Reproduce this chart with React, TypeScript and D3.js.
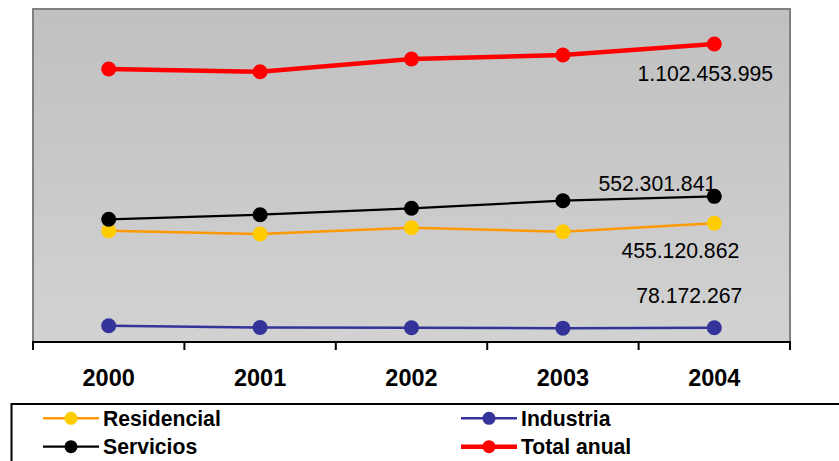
import React from "react";
import * as d3 from "d3";

const years = ["2000", "2001", "2002", "2003", "2004"];
const residencial = [428.3e6, 416.4e6, 439.2e6, 424.7e6, 455120862];
const industria = [85.0e6, 79.0e6, 77.8e6, 76.5e6, 78172267];
const servicios = [469.5e6, 486.1e6, 509.2e6, 536.6e6, 552301841];
const totalAnual = [1012.1e6, 1002.3e6, 1048.2e6, 1062.6e6, 1102453995];

const seriesNames = ["Residencial", "Industria", "Servicios", "Total anual"];

const W = 839;
const H = 461;
const plot = { left: 33, right: 790, top: 9, bottom: 342 };

const fmt = d3
  .formatLocale({ decimal: ",", thousands: ".", grouping: [3], currency: ["", ""] })
  .format(",d");

type S = {
  name: string;
  values: number[];
  line: string;
  marker: string;
  width: number;
  r: number;
  label: { dx: number; dy: number };
};

const series: S[] = [
  { name: seriesNames[0], values: residencial, line: "#FF9900", marker: "#FFCC00", width: 2.5, r: 7.5, label: { dx: -34, dy: 27 } },
  { name: seriesNames[1], values: industria, line: "#333399", marker: "#333399", width: 2.5, r: 7.5, label: { dx: -25, dy: -32 } },
  { name: seriesNames[2], values: servicios, line: "#000000", marker: "#000000", width: 2.2, r: 7.5, label: { dx: -57, dy: -13 } },
  { name: seriesNames[3], values: totalAnual, line: "#FF0000", marker: "#FF0000", width: 4.5, r: 7.5, label: { dx: -9, dy: 29 } },
];

const FONT = "Arial, 'Liberation Sans', sans-serif";

export default function App() {
  const x = d3.scaleBand<string>().domain(years).range([plot.left, plot.right]);
  const y = d3.scaleLinear().domain([0, 1.2e9]).range([349.35, 349.35 - 0.277 * 1200]);
  const cx = (yr: string) => (x(yr) as number) + x.bandwidth() / 2;
  const line = d3
    .line<number>()
    .x((_, i) => cx(years[i]))
    .y((v) => y(v));

  const ticks = [...years.map((yr) => x(yr) as number), plot.right];

  const legendItems = [
    { s: series[0], col: 0, row: 0 },
    { s: series[1], col: 1, row: 0 },
    { s: series[2], col: 0, row: 1 },
    { s: series[3], col: 1, row: 1 },
  ];

  return (
    <svg
      width={W}
      height={H}
      style={{ position: "absolute", left: 0, top: 0, display: "block" }}
      fontFamily={FONT}
    >
      <defs>
        <linearGradient id="bg" x1="0" y1="0" x2="0" y2="1">
          <stop offset="0%" stopColor="#C0C0C0" />
          <stop offset="100%" stopColor="#D2D2D2" />
        </linearGradient>
      </defs>
      <rect x={0} y={0} width={W} height={H} fill="#fff" />
      <rect
        x={plot.left}
        y={plot.top}
        width={plot.right - plot.left}
        height={plot.bottom - plot.top}
        fill="url(#bg)"
      />
      <path
        d={`M${plot.left},${plot.bottom}V${plot.top}H${plot.right}V${plot.bottom}`}
        fill="none"
        stroke="#808080"
        strokeWidth={2}
      />
      {/* x axis */}
      <line x1={plot.left - 1} x2={plot.right + 1} y1={plot.bottom} y2={plot.bottom} stroke="#000" strokeWidth={2} />
      {ticks.map((t, i) => (
        <line key={i} x1={t} x2={t} y1={plot.bottom} y2={plot.bottom + 8} stroke="#000" strokeWidth={2} />
      ))}
      {years.map((yr) => (
        <text
          key={yr}
          x={cx(yr)}
          y={378}
          dy="0.36em"
          textAnchor="middle"
          fontWeight="bold"
          fontSize={23.5}
          fill="#000"
        >
          {yr}
        </text>
      ))}
      {/* series */}
      {series.map((s) => (
        <g key={s.name}>
          <path d={line(s.values) || ""} fill="none" stroke={s.line} strokeWidth={s.width} />
          {s.values.map((v, i) => (
            <circle key={i} cx={cx(years[i])} cy={y(v)} r={s.r} fill={s.marker} />
          ))}
        </g>
      ))}
      {/* data labels on last point */}
      {series.map((s) => {
        const last = s.values.length - 1;
        return (
          <text
            key={s.name + "-lbl"}
            x={cx(years[last]) + s.label.dx}
            y={y(s.values[last]) + s.label.dy}
            dy="0.36em"
            textAnchor="middle"
            fontSize={21.2}
            fill="#000"
          >
            {fmt(s.values[last])}
          </text>
        );
      })}
      {/* legend */}
      <rect x={11.5} y={404} width={W + 10} height={H} fill="#fff" stroke="#000" strokeWidth={2} />
      {legendItems.map(({ s, col, row }) => {
        const lx = col === 0 ? 43 : 461;
        const ly = row === 0 ? 418.3 : 446.7;
        return (
          <g key={s.name + "-leg"}>
            <line x1={lx} x2={lx + 56} y1={ly} y2={ly} stroke={s.line} strokeWidth={s.width} />
            <circle cx={lx + 28} cy={ly} r={6.5} fill={s.marker} />
            <text x={lx + 60} y={ly} dy="0.36em" fontSize={21.2} fontWeight="bold" fill="#000">
              {s.name}
            </text>
          </g>
        );
      })}
    </svg>
  );
}
